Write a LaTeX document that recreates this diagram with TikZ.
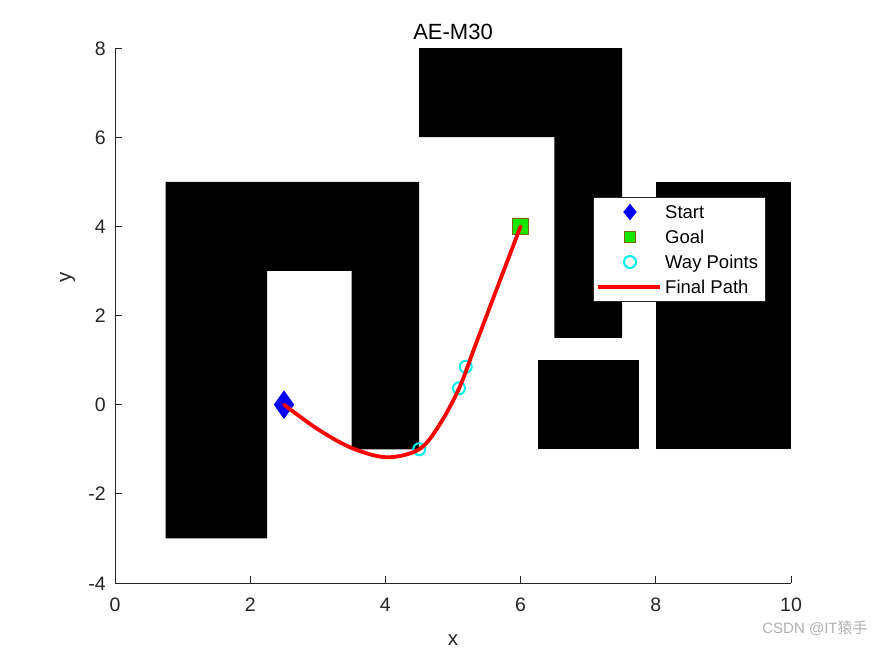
\documentclass[tikz,border=0pt]{standalone}
\usepackage{fontspec}
\setmainfont{Liberation Sans}
\newfontfamily\cjkf{Noto Sans CJK SC}
\usetikzlibrary{shapes.geometric}
\definecolor{axgray}{rgb}{0.15,0.15,0.15}
\definecolor{goalgreen}{RGB}{20,230,0}
\definecolor{goaledge}{RGB}{120,100,20}
\definecolor{wpcyan}{RGB}{0,240,240}
\tikzset{
  obst/.style={fill=black},
  axisline/.style={draw=axgray, line width=0.9pt},
  ticklab/.style={text=axgray, inner sep=0pt, font=\fontsize{19.5}{23}\selectfont},
  axlab/.style={text=axgray, inner sep=0pt, font=\fontsize{20.5}{24}\selectfont},
  startmk/.style={shape=diamond, fill=blue, draw=blue, inner sep=0pt, minimum width=20pt, minimum height=28pt},
  goalmk/.style={shape=rectangle, fill=goalgreen, draw=goaledge, line width=0.8pt, inner sep=0pt, minimum size=16pt},
  wpmk/.style={shape=circle, draw=wpcyan, line width=2pt, inner sep=0pt, minimum size=12pt},
  finalpath/.style={draw=red, line width=3.8pt, line cap=round, line join=round},
  legbox/.style={fill=white, draw=axgray, line width=0.8pt},
  legtext/.style={anchor=base west, inner sep=0pt, yshift=-6.6pt, font=\fontsize{18.5}{22}\selectfont},
}
\begin{document}
\begin{tikzpicture}[x=67.6pt,y=44.583pt]
\useasboundingbox[fill=white] (-1.7012,-5.6374) rectangle (11.2426,9.0767);

% obstacles
\fill[obst] (0.75,-3) -- (2.25,-3) -- (2.25,3) -- (3.5,3) -- (3.5,-1) -- (4.5,-1) -- (4.5,5) -- (0.75,5) -- cycle;
\fill[obst] (4.5,6) -- (6.5,6) -- (6.5,1.5) -- (7.5,1.5) -- (7.5,8) -- (4.5,8) -- cycle;
\fill[obst] (6.25,-1) rectangle (7.75,1);
\fill[obst] (8,-1) rectangle (10,5);

% axes
\coordinate (ytop) at (0,8);
\coordinate (orig) at (0,-4);
\coordinate (xend) at (10,-4);
\draw[axisline] (ytop) -- (orig) -- (xend);
\foreach \v in {0,2,4,6,8,10} {
  \draw[axisline] (\v,-4) -- ++(0,7pt);
  \node[ticklab, anchor=north] (xt\v) at ([yshift=-14.5pt]\v,-4) {\v};
}
\foreach \v/\t in {-4/-4,-2/-2,0/0,2/2,4/4,6/6,8/8} {
  \draw[axisline] (0,\v) -- ++(7pt,0);
  \node[ticklab, anchor=base east] (yt\v) at ([xshift=-9pt,yshift=-7pt]0,\v) {\t};
}
\node[axlab] (xlabel) at (5,-5.28) {x};
\node[axlab, rotate=90] (ylabel) at (-0.70,2.86) {y};
\node[inner sep=0pt, anchor=base, font=\fontsize{22}{26}\selectfont] (title) at ([yshift=-7.8pt]5,8.359) {AE-M30};

% markers
\node[startmk] (start) at (2.5,0) {};
\node[goalmk] (goal) at (6,4) {};
\node[wpmk] (w1) at (4.5,-1) {};
\node[wpmk] (w2) at (5.089,0.367) {};
\node[wpmk] (w3) at (5.188,0.851) {};

% path
\coordinate (p1) at (3.0,-0.55);
\coordinate (p2) at (3.5,-0.97);
\coordinate (p3) at (4.02,-1.18);
\coordinate (p4) at (4.8,-0.45);
\coordinate (p5) at (5.36,1.45);
\draw[finalpath] plot[smooth, tension=0.55] coordinates {(start.center) (p1) (p2) (p3) (w1.center) (p4) (5.1,0.4) (p5) (goal.center)};

% legend
\node[legbox, minimum width=172pt, minimum height=104pt, anchor=north west, inner sep=0pt] (leg) at (7.071,4.658) {};
\node[startmk, minimum width=13pt, minimum height=16pt] (lstart) at (7.618,4.321) {};
\node[goalmk, minimum size=11pt] (lgoal) at (7.618,3.761) {};
\node[wpmk, minimum size=12pt] (lwp) at (7.618,3.2) {};
\coordinate (lpa) at (7.145,2.639);
\coordinate (lpb) at (8.062,2.639);
\draw[finalpath, line cap=butt] (lpa) -- (lpb);
\node[legtext] (tstart) at (8.136,4.321) {Start};
\node[legtext] (tgoal) at (8.136,3.761) {Goal};
\node[legtext] (twp) at (8.136,3.2) {Way Points};
\node[legtext] (tfp) at (8.136,2.639) {Final Path};

% watermark
\node[text=black!30, inner sep=0pt, font=\fontsize{15}{17}\selectfont] (wm) at (10.355,-5.01) {CSDN @IT{\cjkf 猿手}};
\end{tikzpicture}
\end{document}
